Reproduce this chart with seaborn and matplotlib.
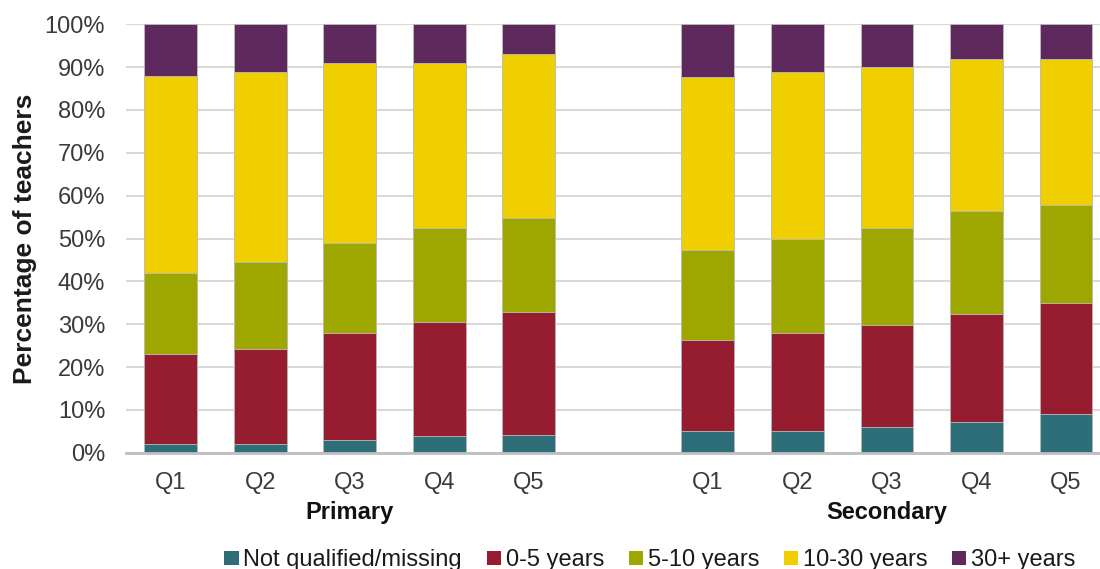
import numpy as np
import pandas as pd
import matplotlib
matplotlib.use("Agg")
import matplotlib.pyplot as plt
from matplotlib.patches import Patch
import matplotlib.transforms as mtransforms
import seaborn as sns

# Share of teachers by experience band, per deprivation quintile (percent)
phases = ["Primary", "Secondary"]
quintiles = ["Q1", "Q2", "Q3", "Q4", "Q5"]
series_names = ["Not qualified/missing", "0-5 years", "5-10 years", "10-30 years", "30+ years"]
series_colors = ["#2E6E78", "#961C30", "#9EA700", "#F0CF00", "#5E2A5E"]

primary_not_qualified = [2.0, 2.0, 3.0, 4.0, 4.1]
primary_0_5 = [21.0, 22.3, 25.0, 26.6, 28.8]
primary_5_10 = [19.0, 20.1, 21.0, 21.8, 22.0]
primary_10_30 = [46.0, 44.5, 42.0, 38.6, 38.1]
primary_30_plus = [12.0, 11.1, 9.0, 9.0, 7.0]

secondary_not_qualified = [5.1, 5.0, 6.0, 7.1, 9.0]
secondary_0_5 = [21.1, 23.0, 23.7, 25.2, 26.0]
secondary_5_10 = [21.2, 22.0, 22.7, 24.2, 22.9]
secondary_10_30 = [40.4, 38.9, 37.6, 35.3, 33.9]
secondary_30_plus = [12.2, 11.1, 10.0, 8.2, 8.2]

primary = [primary_not_qualified, primary_0_5, primary_5_10, primary_10_30, primary_30_plus]
secondary = [secondary_not_qualified, secondary_0_5, secondary_5_10, secondary_10_30, secondary_30_plus]

# Long-format table; secondary bars sit after one empty slot
rows = []
for p_idx, (phase, block) in enumerate(zip(phases, [primary, secondary])):
    for q_idx, q in enumerate(quintiles):
        pos = q_idx + p_idx * (len(quintiles) + 1)
        for s_idx, name in enumerate(series_names):
            rows.append(dict(phase=phase, quintile=q, pos=pos, series=name,
                             value=block[s_idx][q_idx]))
df = pd.DataFrame(rows)
df["series"] = pd.Categorical(df["series"], categories=series_names, ordered=True)
df = df.sort_values(["pos", "series"])
df["top"] = df.groupby("pos")["value"].cumsum()

sns.set_style("white")
plt.rcParams["font.family"] = ["Liberation Sans", "DejaVu Sans"]

fig = plt.figure(figsize=(11, 5.69), dpi=100)
ax = fig.add_axes([126 / 1100, 1 - 452.7 / 569, 1 - 126 / 1100, (452.7 - 24.3) / 569])

# Stacked bars: draw cumulative totals from the top band downward
for name, color in reversed(list(zip(series_names, series_colors))):
    sub = df[df["series"] == name]
    sns.barplot(data=sub, x="pos", y="top", native_scale=True, color=color,
                width=0.59, edgecolor="#BDBDBD", linewidth=0.6, errorbar=None,
                saturation=1, ax=ax, zorder=3)

ax.set_xlim(-0.5, 10.38)
ax.set_ylim(0, 100)
ax.set_yticks(np.arange(0, 101, 10))
ax.set_yticklabels([f"{v}%" for v in range(0, 101, 10)])
positions = sorted(df["pos"].unique())
ax.set_xticks(positions)
ax.set_xticklabels(quintiles * 2)

ax.grid(axis="y", color="#DCD8D6", linewidth=1.5, zorder=0)
ax.grid(axis="x", visible=False)
ax.set_axisbelow(True)
for side in ["top", "right", "left"]:
    ax.spines[side].set_visible(False)
ax.spines["bottom"].set_color("#BFBFBF")
ax.spines["bottom"].set_linewidth(2)
ax.spines["bottom"].set_zorder(4)

ax.tick_params(axis="both", length=0, labelsize=17, labelcolor="#3A3A3A")
ax.tick_params(axis="y", pad=15)
ax.tick_params(axis="x", pad=14)

ax.set_xlabel("")
ax.set_ylabel("Percentage of teachers", fontsize=19, fontweight="bold",
              color="#1A1A1A")
ax.yaxis.set_label_coords(-(126 - 37) / (1100 - 126), 0.5)

# Phase labels centred under each group of bars
trans = mtransforms.blended_transform_factory(ax.transData, fig.transFigure)
for p_idx, phase in enumerate(phases):
    center = 2 + p_idx * (len(quintiles) + 1)
    ax.text(center, 1 - 512.5 / 569, phase, transform=trans, ha="center", va="center",
            fontsize=17, fontweight="bold", color="#111111")

handles = [Patch(facecolor=c, edgecolor="none") for c in series_colors]
fig.legend(handles, series_names, loc="center", bbox_to_anchor=(650 / 1100, 1 - 560 / 569),
           ncol=5, frameon=False, fontsize=17, handlelength=0.6, handleheight=0.55,
           handletextpad=0.2, columnspacing=1.05, labelcolor="#1A1A1A")

fig.savefig("out.png", dpi=100)
